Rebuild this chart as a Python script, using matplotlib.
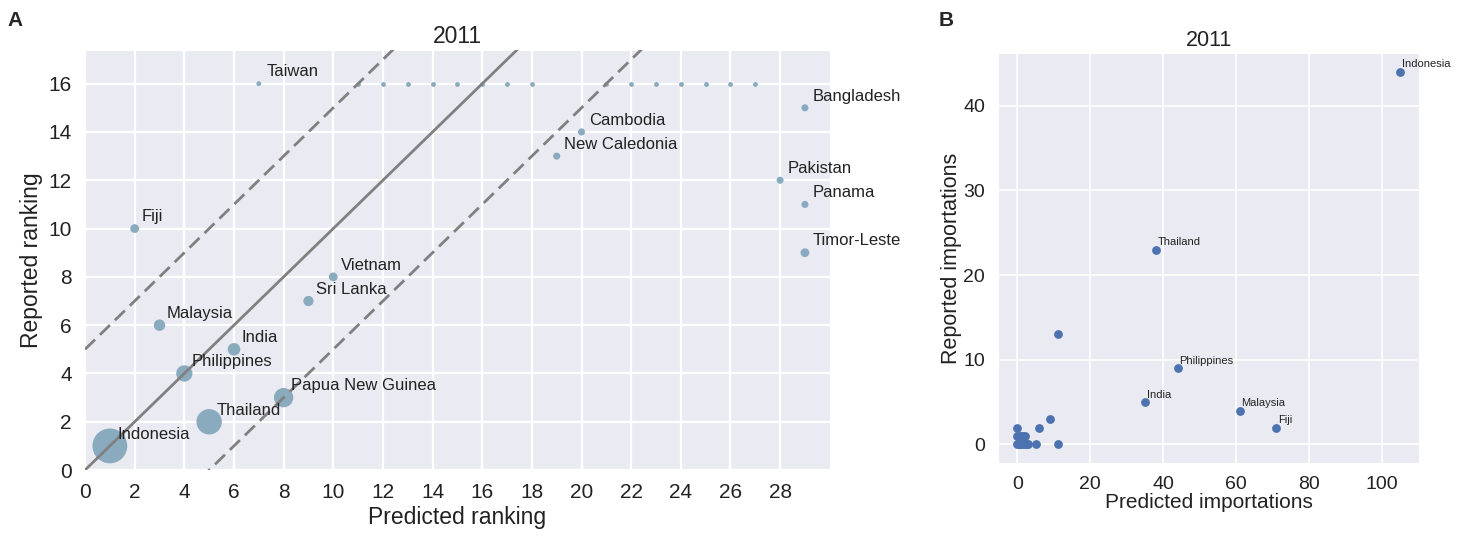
import matplotlib
matplotlib.use('Agg')
import matplotlib.pyplot as plt
import seaborn as sns

sns.set_style('darkgrid')
plt.rcParams['font.family'] = ['Liberation Sans', 'DejaVu Sans']

# Panel A: ranking comparison (labelled countries)
countries_a = ['Indonesia', 'Thailand', 'Philippines', 'Malaysia', 'India',
               'Papua New Guinea', 'Sri Lanka', 'Vietnam', 'Fiji', 'Timor-Leste',
               'Panama', 'Pakistan', 'New Caledonia', 'Cambodia', 'Bangladesh', 'Taiwan']
pred_rank = [1, 5, 4, 3, 6, 8, 9, 10, 2, 29, 29, 28, 19, 20, 29, 7]
rep_rank = [1, 2, 4, 6, 5, 3, 7, 8, 10, 9, 11, 12, 13, 14, 15, 16]
rep_count = [44, 23, 9, 4, 5, 13, 3, 2, 2, 2, 1, 1, 1, 1, 1, 0]

# unlabelled countries tied at reported rank 16 (no reported importations)
tied_pred_rank = [11, 12, 13, 14, 15, 16, 17, 18, 21, 22, 23, 24, 25, 26, 27]
tied_rep_rank = 16

# Panel B: importations
labels_b = ['Indonesia', 'Thailand', 'Philippines', 'India', 'Malaysia', 'Fiji']
pred_imp_lab = [105, 38, 44, 35, 61, 71]
rep_imp_lab = [44, 23, 9, 5, 4, 2]
pred_imp_other = [11, 9, 6, 0, 0, 0.5, 1, 1.5, 2,
                  0, 0.3, 0.6, 1, 1.5, 2, 2.5, 3, 5, 11]
rep_imp_other = [13, 3, 2, 2, 1, 1, 1, 1, 1,
                 0, 0, 0, 0, 0, 0, 0, 0, 0, 0]

dot_col = '#89abbd'
txt_col = '#222222'

fig = plt.figure(figsize=(14.66, 5.36), dpi=100)
axA = fig.add_axes([0.058, 0.123, 0.508, 0.784])
axB = fig.add_axes([0.681, 0.136, 0.287, 0.765])

# --- panel A
xx = [0, 30]
dash = (5, 2.5)
axA.plot(xx, xx, color='grey', lw=2, zorder=3)
axA.plot(xx, [v + 5 for v in xx], color='grey', lw=2, ls=(0, dash), zorder=3)
axA.plot(xx, [v - 5 for v in xx], color='grey', lw=2, ls=(0, dash), zorder=3)

sizes = [12 + 14 * r for r in rep_count]
axA.scatter(pred_rank, rep_rank, s=sizes, color=dot_col, zorder=2, linewidths=0)
axA.scatter(tied_pred_rank, [tied_rep_rank] * len(tied_pred_rank), s=12,
            color=dot_col, zorder=2, linewidths=0)
for name, x, y in zip(countries_a, pred_rank, rep_rank):
    axA.text(x + 0.3, y + 0.3, name, fontsize=12, color=txt_col, zorder=4)

axA.set_xlim(0, 30)
axA.set_ylim(0, 17.4)
axA.set_xticks(range(0, 29, 2))
axA.set_yticks(range(0, 17, 2))
axA.tick_params(labelsize=15, colors=txt_col, pad=6)
axA.set_xlabel('Predicted ranking', fontsize=16.5, color=txt_col, labelpad=3)
axA.set_ylabel('Reported ranking', fontsize=16.5, color=txt_col, labelpad=4)
axA.set_title('2011', fontsize=16.5, color=txt_col, pad=5)
axA.grid(color='white', lw=1.6)

# --- panel B
axB.scatter(pred_imp_lab + pred_imp_other, rep_imp_lab + rep_imp_other,
            s=40, color='#4c72b0', linewidths=0, zorder=2)
for name, x, y in zip(labels_b, pred_imp_lab, rep_imp_lab):
    axB.text(x + 0.5, y + 0.5, name, fontsize=8, color=txt_col)
axB.set_xticks(range(0, 101, 20))
axB.set_yticks(range(0, 41, 10))
axB.tick_params(labelsize=14, colors=txt_col, pad=6)
axB.set_xlabel('Predicted importations', fontsize=15, color=txt_col, labelpad=0)
axB.set_ylabel('Reported importations', fontsize=15.5, color=txt_col, labelpad=1)
axB.set_title('2011', fontsize=15.5, color=txt_col, pad=5)
axB.grid(color='white', lw=1.2)

fig.text(0.005, 0.951, 'A', fontsize=15, fontweight='bold')
fig.text(0.640, 0.951, 'B', fontsize=15, fontweight='bold')

fig.savefig('out.png', dpi=100)
